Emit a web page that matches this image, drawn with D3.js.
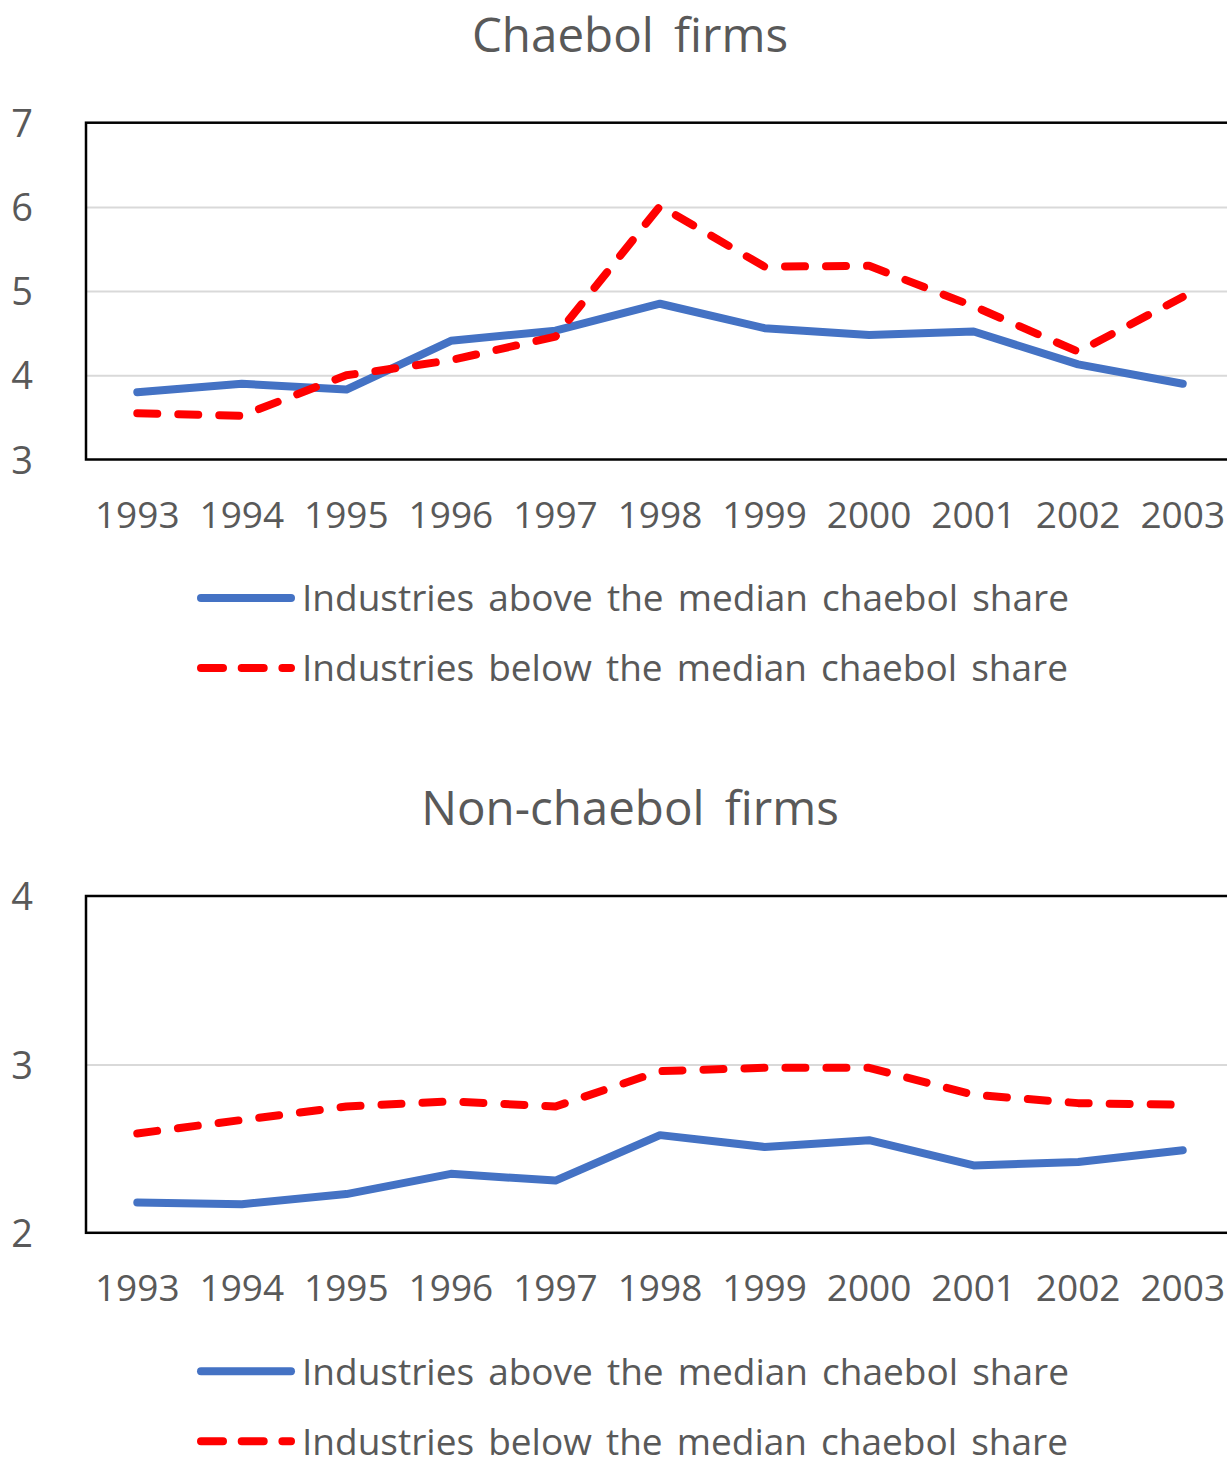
<!DOCTYPE html>
<html><head><meta charset="utf-8">
<script src="https://cdn.jsdelivr.net/npm/d3@7"></script>
<style>
body{margin:0;background:#fff;overflow:hidden}
text{font-family:"Open Sans","Noto Sans",sans-serif;fill:#595959}
</style>
</head><body>
<svg id="c" width="1227" height="1458"></svg>
<script>
const years = ["1993","1994","1995","1996","1997","1998","1999","2000","2001","2002","2003"];
const seriesNames = ["Industries above the median chaebol share","Industries below the median chaebol share"];
const panelTitles = ["Chaebol firms","Non-chaebol firms"];
const chaebolAbove = [3.80,3.90,3.83,4.41,4.53,4.85,4.56,4.48,4.52,4.13,3.90];
const chaebolBelow = [3.55,3.52,4.00,4.18,4.46,6.01,5.29,5.30,4.82,4.28,4.93];
const nonChaebolAbove = [2.18,2.17,2.23,2.35,2.31,2.58,2.51,2.55,2.40,2.42,2.49];
const nonChaebolBelow = [2.59,2.67,2.75,2.78,2.75,2.96,2.98,2.98,2.82,2.77,2.76];
const chaebolTicks = [3,4,5,6,7];
const nonChaebolTicks = [2,3,4];

const svg = d3.select("#c");
const colors = ["#4472C4","#FF0000"];

function drawPanel(offsetY, title, above, below, ticks) {
  const g = svg.append("g").attr("transform", `translate(0,${offsetY})`);
  const left = 86, right = 1235, top = 122.7, bottom = 459.5;
  const x = d3.scaleBand().domain(years).range([left - 1, right]).padding(0);
  const cx = d => x(d) + x.bandwidth() / 2;
  const y = d3.scaleLinear().domain([ticks[0], ticks[ticks.length - 1]]).range([bottom, top]);

  // gridlines
  const grid = g.append("g").attr("transform", `translate(${left},0)`)
    .call(d3.axisLeft(y).tickValues(ticks.slice(1, -1)).tickSize(-(right - left)).tickFormat(""));
  grid.select(".domain").remove();
  grid.selectAll("line").attr("stroke", "#d9d9d9").attr("stroke-width", 2);

  // y labels
  const ya = g.append("g").attr("transform", `translate(33,0)`)
    .call(d3.axisLeft(y).tickValues(ticks).tickSize(0).tickPadding(0).tickFormat(d3.format("d")));
  ya.select(".domain").remove();
  ya.selectAll("text").attr("font-size", 38).attr("fill", "#595959")
    .attr("font-family", "'Open Sans','Noto Sans',sans-serif").attr("dy", "0.36em");

  // x labels
  const xa = g.append("g").attr("transform", `translate(0,${bottom})`)
    .call(d3.axisBottom(x).tickSize(0).tickPadding(0));
  xa.select(".domain").remove();
  xa.selectAll("text").attr("font-size", 37).attr("fill", "#595959")
    .attr("font-family", "'Open Sans','Noto Sans',sans-serif").attr("dy", null).attr("y", 68);

  // frame
  g.append("rect").attr("x", left).attr("y", top).attr("width", right - left).attr("height", bottom - top)
    .attr("fill", "none").attr("stroke", "#000").attr("stroke-width", 2.5);

  const line = d3.line().x((d, i) => cx(years[i])).y(d => y(d));
  g.append("path").datum(above).attr("d", line).attr("fill", "none")
    .attr("stroke", colors[0]).attr("stroke-width", 8).attr("stroke-linecap", "round").attr("stroke-linejoin", "round");
  g.append("path").datum(below).attr("d", line).attr("fill", "none")
    .attr("stroke", colors[1]).attr("stroke-width", 8).attr("stroke-linecap", "round").attr("stroke-linejoin", "round")
    .attr("stroke-dasharray", "20,21");

  // title
  g.append("text").attr("x", 630).attr("y", 52).attr("text-anchor", "middle")
    .attr("font-size", 47.5).attr("word-spacing", 8).text(title);

  // legend
  const leg = g.append("g");
  seriesNames.forEach((name, i) => {
    const ly = 598 + i * 70;
    leg.append("line").attr("x1", 201).attr("x2", 291).attr("y1", ly).attr("y2", ly)
      .attr("stroke", colors[i]).attr("stroke-width", 8).attr("stroke-linecap", "round")
      .attr("stroke-dasharray", i === 1 ? "22,18.7" : null);
    leg.append("text").attr("x", 302).attr("y", ly).attr("dy", "0.36em")
      .attr("font-size", 37).attr("word-spacing", 4.5).text(name);
  });
}

drawPanel(0, panelTitles[0], chaebolAbove, chaebolBelow, chaebolTicks);
drawPanel(773.3, panelTitles[1], nonChaebolAbove, nonChaebolBelow, nonChaebolTicks);
</script>
</body></html>
